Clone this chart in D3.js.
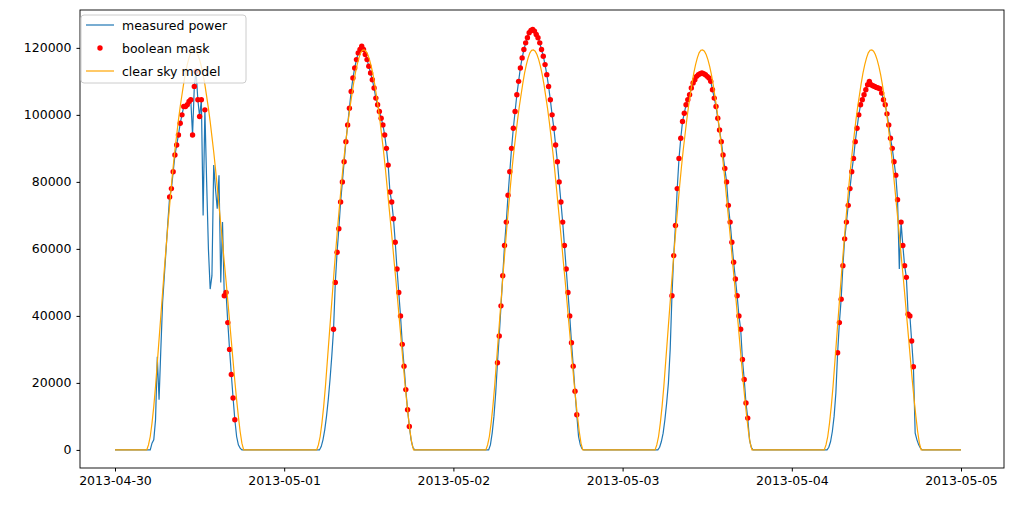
<!DOCTYPE html>
<html><head><meta charset="utf-8">
<script src="https://cdn.jsdelivr.net/npm/d3@7/dist/d3.min.js"></script>
<style>body{margin:0;background:#fff}svg{font-family:"DejaVu Sans",sans-serif}</style>
</head><body><svg id="c" width="1012" height="505"></svg>
<script>
const days = ["2013-04-30","2013-05-01","2013-05-02","2013-05-03","2013-05-04"];
const tickLabels = ["2013-04-30","2013-05-01","2013-05-02","2013-05-03","2013-05-04","2013-05-05"];
const yTicks = [0,20000,40000,60000,80000,100000,120000];
const stepHours = 0.25;
const measStart = 5.0;
const clearStart = [4.5,4.6,4.6,4.6,4.6];
const clearSkyProfile = [0,1500,4000,8000,13000,19000,26000,33000,40000,47000,54000,60500,67000,73000,79000,84500,89500,94000,98500,102500,106000,109500,112500,115000,117000,118500,119300,119400,119000,118000,116500,114500,112000,109000,105500,102000,98000,93500,89000,84000,78500,73000,67500,62000,56000,50500,44500,38500,32500,26500,20500,15000,10000,5500,2000,0];
const measured1 = [0,2000,3000,9000,27800,15000,30000,44000,52000,60000,68000,75500,78000,83000,88000,91000,94000,97500,100000,102500,102500,103000,104000,104500,94000,108500,113000,104500,99500,104500,70000,101500,80000,60000,48000,52000,85000,78000,72000,82000,50000,68000,46000,47000,38000,30000,22500,15500,9000,4000,1500,500,0,0,0];
const mask1 =     [0,0,0,0,0,0,0,0,0,0,0,1,1,1,1,1,1,1,1,1,1,1,1,1,1,1,1,1,1,1,0,1,0,0,0,0,0,0,0,0,0,0,1,1,1,1,1,1,1,0,0,0,0,0,0];
const measured2 = [0,1000,3000,6000,10000,15000,21000,28000,36000,50000,59000,66000,74000,80000,86000,92000,97000,102000,107000,111000,114000,116500,118500,119500,120500,119500,118000,116500,114500,112500,110500,108000,105000,103000,101000,99000,97000,94000,90000,85000,77000,74000,69000,62000,54000,47000,40000,31500,25000,18000,12000,7000,3000,800,0];
const mask2 =     [0,0,0,0,0,0,0,0,1,1,1,1,1,1,1,1,1,1,1,1,1,1,1,1,1,1,1,1,1,1,1,1,1,1,1,1,1,1,1,1,1,1,1,1,1,1,1,1,1,1,1,1,0,0,0];
const measured3 = [0,1500,5000,10000,17000,26000,34000,43000,52000,61000,68000,76000,83000,90000,96000,101000,106000,110000,114000,117000,119500,121500,123000,124500,125200,125500,125000,124000,123000,121500,119500,117500,115000,112000,108500,104500,100000,96000,91000,86000,80000,74000,68000,61000,54000,47000,40000,32000,25000,17500,10500,4000,1500,300,0];
const mask3 =     [0,0,0,0,0,1,1,1,1,1,1,1,1,1,1,1,1,1,1,1,1,1,1,1,1,1,1,1,1,1,1,1,1,1,1,1,1,1,1,1,1,1,1,1,1,1,1,1,1,1,1,0,0,0,0];
const measured4 = [0,800,2500,5000,9000,14000,20000,30000,46000,58000,67000,78000,87000,93000,98000,100500,103000,104500,106000,108000,109500,110500,111500,112000,112300,112500,112300,112000,111500,111000,110000,107500,105000,102500,99000,95500,92000,88000,84000,80000,73000,68000,62000,56000,51000,46000,40000,36000,27000,21000,14000,9500,3000,800,0];
const mask4 =     [0,0,0,0,0,0,0,0,1,1,1,1,1,1,1,1,1,1,1,1,1,1,1,1,1,1,1,1,1,1,1,1,1,1,1,1,1,1,1,1,1,1,1,1,1,1,1,1,1,1,1,1,0,0,0];
const measured5 = [0,800,2500,5500,10000,17000,29000,38000,45000,55000,63000,68000,73000,78000,83000,87000,92000,96000,100000,103000,104500,106000,107500,109000,110000,109000,108700,108500,108200,108000,107800,106500,104500,103000,100300,97000,93000,90000,86000,82000,74700,54000,68000,61000,55000,51500,40500,40000,32500,24800,5000,3000,1500,500,0];
const mask5 =     [0,0,0,0,0,0,1,1,1,1,1,1,1,1,1,1,1,1,1,1,1,1,1,1,1,1,1,1,1,1,1,1,1,1,1,1,1,1,1,1,1,0,1,1,1,1,1,1,1,1,0,0,0,0,0];

const measuredDays = [measured1,measured2,measured3,measured4,measured5];
const maskDays = [mask1,mask2,mask3,mask4,mask5];

const svg = d3.select("#c");
const L=80,R=1004,T=10,B=468;
const d0 = new Date(Date.UTC(2013,3,30)), d5 = new Date(Date.UTC(2013,4,5));
const x = d3.scaleUtc().domain([d0,d5]).range([115,961]);
const y = d3.scaleLinear().domain([-5400,131300]).range([B,T]);
const at = (di,h) => new Date(Date.parse(days[di]+"T00:00:00Z") + h*3600000);

const meas=[{t:d0,v:0}], clear=[{t:d0,v:0}], dots=[];
days.forEach((d,di)=>{
  measuredDays[di].forEach((v,i)=>{const t=at(di,measStart+i*stepHours);meas.push({t,v});if(maskDays[di][i])dots.push({t,v});});
  clearSkyProfile.forEach((v,i)=>clear.push({t:at(di,clearStart[di]+i*stepHours),v}));
});
meas.push({t:d5,v:0}); clear.push({t:d5,v:0});
clear.sort((a,b)=>a.t-b.t); meas.sort((a,b)=>a.t-b.t);

const line=d3.line().x(d=>x(d.t)).y(d=>y(d.v));
svg.append("path").attr("d",line(meas)).attr("fill","none").attr("stroke","#1f77b4").attr("stroke-width",1.2);
svg.selectAll("circle.m").data(dots).join("circle").attr("cx",d=>x(d.t)).attr("cy",d=>y(d.v)).attr("r",2.7).attr("fill","red");
svg.append("path").attr("d",line(clear)).attr("fill","none").attr("stroke","orange").attr("stroke-width",1.2);

const xa=svg.append("g").attr("transform",`translate(0,${B})`).call(d3.axisBottom(x).tickValues(tickLabels.map(s=>new Date(s+"T00:00:00Z"))).tickFormat(d3.utcFormat("%Y-%m-%d")).tickSize(3.5).tickPadding(5));
const ya=svg.append("g").attr("transform",`translate(${L},0)`).call(d3.axisLeft(y).tickValues(yTicks).tickFormat(d3.format("d")).tickSize(3.5).tickPadding(5));
[xa,ya].forEach(g=>{g.select(".domain").remove();g.selectAll("text").attr("font-size",12.5).attr("fill","#000").attr("font-family","DejaVu Sans");g.selectAll("line").attr("stroke","#000");});
svg.append("rect").attr("x",L).attr("y",T).attr("width",R-L).attr("height",B-T).attr("fill","none").attr("stroke","#000").attr("stroke-width",0.9);

const lg=svg.append("g");
lg.append("rect").attr("x",81).attr("y",15).attr("width",165).attr("height",68).attr("rx",3).attr("fill","#fff").attr("fill-opacity",0.8).attr("stroke","#ccc");
const items=[["measured power","line","#1f77b4"],["boolean mask","dot","red"],["clear sky model","line","orange"]];
items.forEach((it,i)=>{const yy=25+i*23;
  if(it[1]=="line") lg.append("line").attr("x1",86).attr("x2",114).attr("y1",yy).attr("y2",yy).attr("stroke",it[2]).attr("stroke-width",1.2);
  else lg.append("circle").attr("cx",100).attr("cy",yy).attr("r",2.7).attr("fill",it[2]);
  lg.append("text").attr("x",122).attr("y",yy+4.5).attr("font-size",12.5).text(it[0]);
});
</script></body></html>
